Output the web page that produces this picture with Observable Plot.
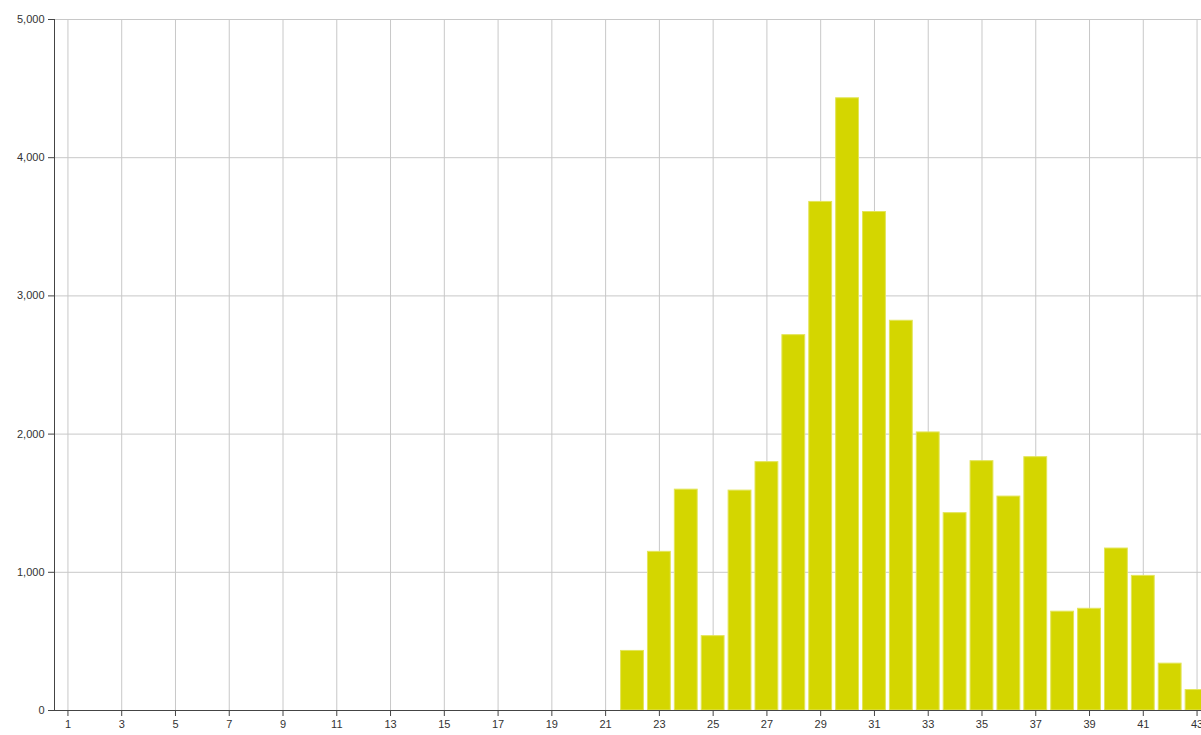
<!DOCTYPE html>
<html>
<head>
<meta charset="utf-8">
<script src="https://cdn.jsdelivr.net/npm/d3@7"></script>
<script src="https://cdn.jsdelivr.net/npm/@observablehq/plot@0.6"></script>
<style>
  html, body { margin: 0; padding: 0; background: #fff; overflow: hidden; }
</style>
</head>
<body>
<div id="chart"></div>
<script>
const categories = d3.range(1, 44).map(String);
const barCategories = ["22","23","24","25","26","27","28","29","30","31","32","33","34","35","36","37","38","39","40","41","42","43"];
const barValues = [431, 1148, 1598, 538, 1591, 1797, 2716, 3680, 4430, 3607, 2820, 2012, 1428, 1804, 1548, 1833, 715, 736, 1172, 974, 339, 148];
const xTickLabels = categories.filter((d, i) => i % 2 === 0);
const yTicks = [0, 1000, 2000, 3000, 4000, 5000];

const data = barCategories.map((c, i) => ({cat: c, value: barValues[i]}));

const chart = Plot.plot({
  width: 1215,
  height: 735,
  marginTop: 19,
  marginLeft: 54,
  marginRight: 5,
  marginBottom: 25,
  style: {maxWidth: "none", overflow: "visible", fontFamily: "Liberation Sans, Arial, sans-serif", fontSize: "11px", color: "#333", background: "#fff"},
  x: {domain: categories, paddingInner: 0.15, paddingOuter: 0.075, label: null},
  y: {domain: [0, 5000], label: null},
  marks: [
    Plot.gridX(xTickLabels, {stroke: "#c8c8c8", strokeOpacity: 1}),
    Plot.gridY(yTicks, {stroke: "#c8c8c8", strokeOpacity: 1}),
    Plot.barY(data, {x: "cat", y: "value", fill: "#d4d600", stroke: "#e3e55a", strokeWidth: 1, inset: 0}),
    Plot.axisX(xTickLabels, {tickSize: 6, tickPadding: 4, stroke: "#444", fill: "#333", label: null}),
    Plot.axisY(yTicks, {tickSize: 6, tickPadding: 4, tickFormat: d3.format(","), stroke: "#444", fill: "#333", label: null}),
    Plot.ruleY([0], {stroke: "#444"}),
    Plot.ruleX(["1"], {dx: -13.44, stroke: "#444"})
  ]
});
document.getElementById("chart").appendChild(chart);
</script>
</body>
</html>
